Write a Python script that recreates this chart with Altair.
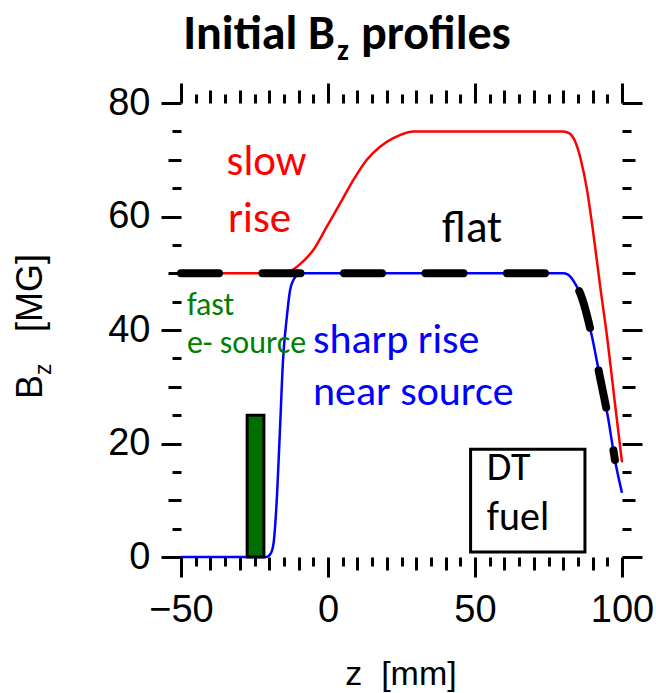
import altair as alt
import pandas as pd

# ---------------- data ----------------
X_TICKS = list(range(-50, 101, 5))
Y_TICKS = list(range(0, 81, 5))

slow_x = [-50, -20, -15.2, -12, -9.5, -5.0, -0.4, 4.1, 8.6, 13.2, 17.7, 22.2, 29.0, 80, 82, 84, 86, 88, 90, 92.5, 95, 97.5, 100]
slow_y = [50, 50, 50.0, 50.6, 51.6, 54.1, 58.2, 62.3, 66.4, 70.0, 72.3, 73.8, 75.0, 75, 74.7, 73.3, 70.0, 65.0, 58.0, 48.0, 38.5, 27.5, 16.7]

sharp_x = [-50, -21, -19.5, -18.5, -17.3, -16.3, -15.3, -14, -12.9, -11.2, -9.5, 80, 81.5, 83.3, 86.4, 89.8, 92.5, 95.2, 97.6, 100]
sharp_y = [0, 0, 0.6, 2.5, 11.3, 22.9, 34.7, 42.3, 47, 49.3, 50, 50, 49.8, 48.8, 45.6, 38.8, 31.7, 24.7, 17.1, 11.3]

flat_x = [-50, 80, 81.5, 83.3, 86.4, 89.8, 92.5, 95.2, 97.6]
flat_y = [50, 50, 49.8, 48.8, 45.6, 38.8, 31.7, 24.7, 17.1]

source_x = [-27.5]
source_x2 = [-21.8]
source_y = [0]
source_y2 = [25]

fuel_x = [48.5]
fuel_x2 = [87.4]
fuel_y = [0.9]
fuel_y2 = [19.0]

ann_text = ["slow", "rise", "flat", "fast", "e- source", "sharp rise", "near source", "DT", "fuel"]
ann_x = [-34.5, -34, 38.8, -48, -48, -5.1, -5.1, 54, 54]
ann_y = [67.3, 57.3, 55.5, 42.6, 36, 36, 26.8, 13.6, 4.8]
ann_color = ["#ff0000", "#ff0000", "#000000", "#008000", "#008000", "#0000ff", "#0000ff", "#000000", "#000000"]
ann_size = [43, 43, 45, 32, 32, 42, 42, 40, 40]

TEXT_FONT = "Carlito, Lato"
NUM_FONT = "Liberation Sans"

# ---------------- scales & axes ----------------
xscale = alt.Scale(domain=[-50, 100], nice=False, zero=False)
yscale = alt.Scale(domain=[0, 80], nice=False, zero=False)


def make_axis(orient, values, major, mid, show_labels, pad):
    size_expr = f"datum.value % {major} === 0 ? 20 : (datum.value % {mid} === 0 ? 13 : 9)"
    kw = dict(orient=orient, values=values, tickSize=alt.ExprRef(expr=size_expr),
              tickWidth=3, tickColor="black", domain=False, grid=False, title=None, ticks=True)
    if show_labels:
        kw.update(labelExpr=f"datum.value % {major} === 0 ? datum.label : ''",
                  labelFont=NUM_FONT, labelFontSize=38, labelColor="black",
                  labelPadding=pad, labelFlush=False, labelOverlap=False, labelBound=False)
    else:
        kw.update(labels=False)
    return alt.Axis(**kw)


ax_bottom = make_axis("bottom", X_TICKS, 50, 10, True, 14)
ax_top = make_axis("top", X_TICKS, 50, 10, False, 0)
ax_left = make_axis("left", Y_TICKS, 20, 10, True, 11)
ax_right = make_axis("right", Y_TICKS, 20, 10, False, 0)

# ---------------- layers ----------------
slow = alt.Chart(pd.DataFrame({"x": slow_x, "y": slow_y})).mark_line(
    color="#ff0000", strokeWidth=2.5, interpolate="monotone"
).encode(
    x=alt.X("x:Q", scale=xscale, axis=ax_bottom),
    y=alt.Y("y:Q", scale=yscale, axis=ax_left),
)

sharp = alt.Chart(pd.DataFrame({"x": sharp_x, "y": sharp_y})).mark_line(
    color="#0000ff", strokeWidth=2.5, interpolate="monotone"
).encode(
    x=alt.X("x:Q", scale=xscale, axis=ax_top),
    y=alt.Y("y:Q", scale=yscale, axis=ax_right),
)

flat = alt.Chart(pd.DataFrame({"x": flat_x, "y": flat_y})).mark_line(
    color="#000000", strokeWidth=8, strokeDash=[38, 43.5], strokeCap="round",
    interpolate="monotone"
).encode(
    x=alt.X("x:Q", scale=xscale, axis=None),
    y=alt.Y("y:Q", scale=yscale, axis=None),
)

source = alt.Chart(pd.DataFrame({"x": source_x, "x2": source_x2, "y": source_y, "y2": source_y2})).mark_rect(
    fill="#006f00", stroke="black", strokeWidth=3
).encode(
    x=alt.X("x:Q", scale=xscale, axis=None), x2="x2:Q",
    y=alt.Y("y:Q", scale=yscale, axis=None), y2="y2:Q",
)

fuel = alt.Chart(pd.DataFrame({"x": fuel_x, "x2": fuel_x2, "y": fuel_y, "y2": fuel_y2})).mark_rect(
    fill="white", fillOpacity=0, stroke="black", strokeWidth=3
).encode(
    x=alt.X("x:Q", scale=xscale, axis=None), x2="x2:Q",
    y=alt.Y("y:Q", scale=yscale, axis=None), y2="y2:Q",
)

ann = alt.Chart(pd.DataFrame({"t": ann_text, "x": ann_x, "y": ann_y, "c": ann_color, "s": ann_size})).mark_text(
    align="left", baseline="alphabetic", font=TEXT_FONT
).encode(
    x=alt.X("x:Q", scale=xscale, axis=None),
    y=alt.Y("y:Q", scale=yscale, axis=None),
    text="t:N",
    color=alt.Color("c:N", scale=None),
    size=alt.Size("s:Q", scale=None),
)


def label(txt, px, py, size, font, weight="normal", align="left", angle=0):
    kw = dict(align=align, baseline="alphabetic", font=font, fontSize=size,
              fontWeight=weight, color="black")
    if angle:
        kw["angle"] = angle
    return alt.Chart(pd.DataFrame({"t": [txt]})).mark_text(**kw).encode(
        x=alt.value(px), y=alt.value(py), text="t:N")


# pixel positions relative to the plot origin (181, 103)
title_parts = [
    label("Initial B", 154, -54, 48, TEXT_FONT, "bold", "right"),
    label("z", 156, -43, 30, TEXT_FONT, "bold", "left"),
    label("profiles", 180, -54, 48, TEXT_FONT, "bold", "left"),
]
ytitle_parts = [
    label("B", -139, 296, 36, NUM_FONT, "normal", "left", 270),
    label("z", -130, 272, 23, NUM_FONT, "normal", "left", 270),
    label("[MG]", -139, 229, 36, NUM_FONT, "normal", "left", 270),
]
xtitle = label("z\u00a0 [mm]", 220, 582, 34, NUM_FONT, "normal", "center")

chart = alt.layer(
    slow, sharp, flat, source, fuel, ann, *title_parts, *ytitle_parts, xtitle
).resolve_axis(
    x="independent", y="independent"
).properties(
    width=441, height=454,
    padding={"left": 181, "top": 103, "right": 34, "bottom": 136},
    autosize=alt.AutoSizeParams(type="none"),
    background="white",
).configure_view(stroke=None)

chart.save("out.html", embed_options={"renderer": "svg", "actions": False})
